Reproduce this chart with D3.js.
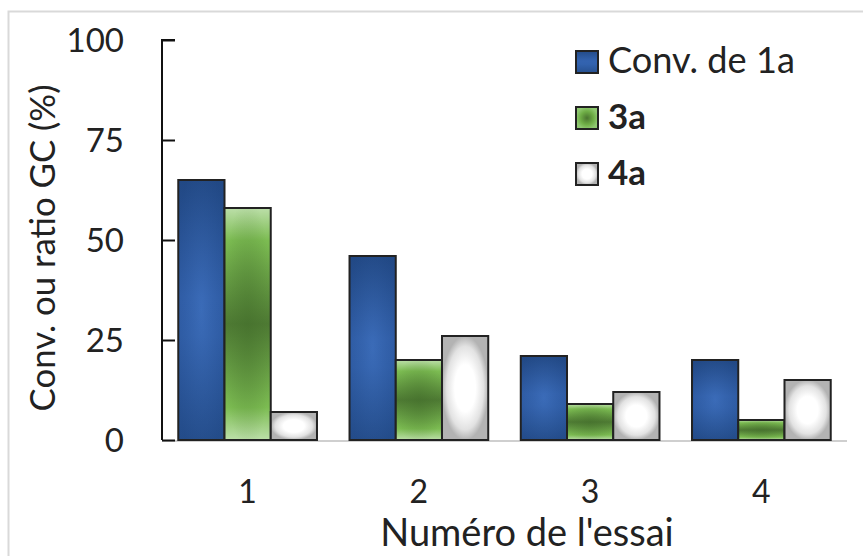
<!DOCTYPE html>
<html><head><meta charset="utf-8">
<script src="https://cdn.jsdelivr.net/npm/d3@7"></script>
<style>html,body{margin:0;padding:0;background:#fff}svg{display:block}</style>
</head><body>
<svg id="c" width="863" height="556"></svg>
<script>
const categories = ["1", "2", "3", "4"];
const seriesNames = ["Conv. de 1a", "3a", "4a"];
const convValues = [65, 46, 21, 20];
const v3a = [58, 20, 9, 5];
const v4a = [7, 26, 12, 15];
const yTicks = [0, 25, 50, 75, 100];
const xTitle = "Numéro de l'essai";
const yTitle = "Conv. ou ratio GC (%)";

const series = [convValues, v3a, v4a];
const font = "Lato, 'Open Sans', sans-serif";
const svg = d3.select("#c");
const defs = svg.append("defs");

function radial(id, stops, r) {
  const g = defs.append("radialGradient").attr("id", id)
    .attr("cx", "50%").attr("cy", "50%").attr("r", r || "50%").attr("fx", "50%").attr("fy", "50%");
  stops.forEach(s => g.append("stop").attr("offset", s[0]).attr("stop-color", s[1]).attr("stop-opacity", s[2] === undefined ? 1 : s[2]));
}
function vlinear(id, stops) {
  const g = defs.append("linearGradient").attr("id", id)
    .attr("x1", 0).attr("y1", 0).attr("x2", 0).attr("y2", 1);
  stops.forEach(s => g.append("stop").attr("offset", s[0]).attr("stop-color", s[1]));
}
vlinear("gBlue", [["0%", "#234b88"], ["45%", "#3363b0"], ["60%", "#3262ae"], ["100%", "#26508f"]]);
radial("gBlueO", [["0%", "#4a7cc8", 0.35], ["100%", "#1c3f78", 0.25]], "60%");
vlinear("gGreen", [["0%", "#bcdfa9"], ["14%", "#7cbc52"], ["50%", "#4f7b34"], ["86%", "#7cbc52"], ["100%", "#bcdfa9"]]);
radial("gGreenO", [["0%", "#3f6a28", 0.45], ["100%", "#3f6a28", 0]], "55%");
radial("gWhite", [["0%", "#ffffff"], ["45%", "#ffffff"], ["80%", "#e2e2e2"], ["100%", "#b3b3b3"]]);
radial("gGreenL", [["0%", "#4a7530"], ["60%", "#6fae46"], ["100%", "#8fc870"]]);
const fills = ["url(#gBlue)", "url(#gGreen)", "url(#gWhite)"];
const overlays = ["url(#gBlueO)", "url(#gGreenO)", null];
const legendFills = ["url(#gBlue)", "url(#gGreenL)", "url(#gWhite)"];

// chart border
svg.append("rect").attr("x", 8.5).attr("y", 11.5).attr("width", 900).attr("height", 600)
  .attr("fill", "none").attr("stroke", "#d9d9d9").attr("stroke-width", 2);

const x0 = d3.scaleBand().domain(categories).range([162, 847]).paddingInner(0.19).paddingOuter(0.095);
const x1 = d3.scaleBand().domain(d3.range(series.length)).range([0, x0.bandwidth()]);
const y = d3.scaleLinear().domain([0, 100]).range([440, 40]);

// baseline
svg.append("line").attr("x1", 162).attr("x2", 847).attr("y1", y(0) + 1).attr("y2", y(0) + 1)
  .attr("stroke", "#cfcfcf").attr("stroke-width", 2);

// bars
categories.forEach((c, i) => {
  series.forEach((s, j) => {
    const bx = x0(c) + x1(j), by = y(s[i]), bw = x1.bandwidth(), bh = y(0) - y(s[i]);
    svg.append("rect").attr("x", bx).attr("y", by).attr("width", bw).attr("height", bh)
      .attr("fill", fills[j]);
    if (overlays[j]) {
      svg.append("rect").attr("x", bx).attr("y", by).attr("width", bw).attr("height", bh)
        .attr("fill", overlays[j]);
    }
    svg.append("rect").attr("x", bx).attr("y", by).attr("width", bw).attr("height", bh)
      .attr("fill", "none").attr("stroke", "#222").attr("stroke-width", 2);
  });
});

// y axis
const yAxis = d3.axisRight(y).tickValues(yTicks).tickSize(13).tickFormat("");
const ya = svg.append("g").attr("transform", "translate(162,0)").call(yAxis);
ya.select(".domain").attr("stroke", "#111").attr("stroke-width", 2).attr("d", "M13,40H0V440");
ya.selectAll(".tick line").attr("stroke", "#111").attr("stroke-width", 2);

svg.append("g").selectAll("text").data(yTicks).join("text")
  .attr("x", 124).attr("y", d => y(d)).attr("dy", "0.36em")
  .attr("text-anchor", "end").attr("font-family", font).attr("font-size", 33)
  .attr("fill", "#222").text(d => d);

// x tick labels
svg.append("g").selectAll("text").data(categories).join("text")
  .attr("x", d => x0(d) + x0.bandwidth() / 2).attr("y", 503)
  .attr("text-anchor", "middle").attr("font-family", font).attr("font-size", 32)
  .attr("fill", "#222").text(d => d);

function fitText(sel, target, maxFs) {
  const w = sel.node().getComputedTextLength();
  const fs = parseFloat(sel.attr("font-size"));
  let nf = fs * target / w;
  if (maxFs) nf = Math.min(nf, maxFs);
  sel.attr("font-size", nf);
}

// x title
const xt = svg.append("text").attr("x", 527).attr("y", 546).attr("text-anchor", "middle")
  .attr("font-family", font).attr("font-size", 34).attr("fill", "#222").text(xTitle);
fitText(xt, 328, 38);

// y title
const yt = svg.append("text").attr("transform", "translate(55,248) rotate(-90)")
  .attr("text-anchor", "middle").attr("font-family", font).attr("font-size", 32)
  .attr("fill", "#222").text(yTitle);
fitText(yt, 327);

// legend
const legY = [62, 118, 174];
const legTargets = [187, 38, 38];
seriesNames.forEach((n, j) => {
  svg.append("rect").attr("x", 576).attr("y", legY[j] - 11).attr("width", 22).attr("height", 22)
    .attr("fill", legendFills[j]).attr("stroke", "#222").attr("stroke-width", 2);
  const t = svg.append("text").attr("x", 608).attr("y", legY[j] + 11)
    .attr("font-family", font).attr("font-size", 32).attr("font-weight", j === 0 ? "normal" : "bold")
    .attr("fill", "#222").text(n);
  fitText(t, legTargets[j]);
});
</script>
</body></html>
